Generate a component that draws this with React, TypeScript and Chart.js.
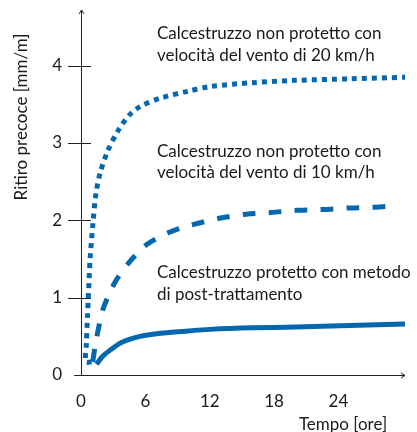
import { useEffect, useRef } from "react";
import { Chart, registerables } from "chart.js";

Chart.register(...registerables);

// ---- data ----
const xTicks = [0, 6, 12, 18, 24];
const yTicks = [0, 1, 2, 3, 4];
const xAxisTitle = "Tempo [ore]";
const yAxisTitle = "Ritiro precoce [mm/m]";

// [ore, mm/m]
const wind20 = [
  [1.0, 0.17], [0.45, 0.17], [0.5, 0.4], [0.6, 0.75], [0.68, 1.0], [0.85, 1.5],
  [1.12, 1.97], [1.4, 2.35], [1.8, 2.62], [2.5, 2.9], [3.5, 3.17], [4.5, 3.36],
  [5.5, 3.47], [7.4, 3.58], [10, 3.67], [12, 3.73], [16, 3.78], [20, 3.81],
  [25, 3.83], [30.2, 3.85],
];
const wind10 = [
  [1.1, 0.17], [1.3, 0.36], [1.7, 0.65], [2.1, 0.87], [3.17, 1.2], [4.57, 1.47],
  [6.16, 1.69], [8.3, 1.85], [10.6, 1.95], [13, 2.03], [15.4, 2.08], [17.7, 2.1],
  [20.1, 2.13], [22.5, 2.14], [25, 2.16], [27.4, 2.17], [29.4, 2.19],
];
const protectedCure = [
  [1.45, 0.14], [2.0, 0.24], [2.7, 0.32], [3.5, 0.4], [4.3, 0.45], [5.5, 0.5],
  [7.4, 0.54], [10, 0.57], [12, 0.59], [16, 0.61], [20, 0.62], [25, 0.64], [30.2, 0.66],
];

const annotationTexts = [
  ["Calcestruzzo non protetto con", "velocità del vento di 20 km/h"],
  ["Calcestruzzo non protetto con", "velocità del vento di 10 km/h"],
  ["Calcestruzzo protetto con metodo", "di post-trattamento"],
];
// anchor of each annotation in data units [ore, mm/m of first line centre]
const annotationAnchors = [
  [7.08, 4.41],
  [7.08, 2.89],
  [7.08, 1.32],
];

const BLUE = "#0567ae";
const INK = "#1a1a1a";
const FONT = "Lato";
const FS = 17;

const toXY = (arr: number[][]) => arr.map(([x, y]) => ({ x, y }));

export default function App() {
  const ref = useRef<HTMLCanvasElement | null>(null);

  useEffect(() => {
    if (!ref.current) return;

    const decor = {
      id: "decor",
      afterDraw(chart: any) {
        const ctx = chart.ctx;
        const xs = chart.scales.x;
        const ys = chart.scales.y;
        const x0 = xs.getPixelForValue(0);
        const y0 = ys.getPixelForValue(0);
        const xEnd = xs.right;
        const yTop = ys.top;
        ctx.save();
        ctx.strokeStyle = "#222";
        ctx.lineWidth = 1;
        // axes
        ctx.beginPath();
        ctx.moveTo(x0 - 7, y0 + 0.5);
        ctx.lineTo(xEnd, y0 + 0.5);
        ctx.moveTo(x0 + 0.5, y0);
        ctx.lineTo(x0 + 0.5, yTop);
        ctx.stroke();
        // arrows
        ctx.beginPath();
        ctx.moveTo(xEnd - 4, y0 + 0.5 - 2.5);
        ctx.lineTo(xEnd, y0 + 0.5);
        ctx.lineTo(xEnd - 4, y0 + 0.5 + 2.5);
        ctx.moveTo(x0 + 0.5 - 2.5, yTop + 4);
        ctx.lineTo(x0 + 0.5, yTop);
        ctx.lineTo(x0 + 0.5 + 2.5, yTop + 4);
        ctx.stroke();
        // y tick marks crossing the axis
        ctx.beginPath();
        yTicks.forEach((v) => {
          if (v === 0) return;
          const py = Math.round(ys.getPixelForValue(v)) + 0.5;
          ctx.moveTo(x0 - 13, py);
          ctx.lineTo(x0 + 10, py);
        });
        ctx.stroke();

        ctx.fillStyle = INK;
        ctx.font = `${FS}px ${FONT}`;
        // x title
        ctx.textAlign = "center";
        ctx.textBaseline = "middle";
        ctx.fillText(xAxisTitle, 343, 425);
        // y title
        ctx.save();
        ctx.translate(22, 117);
        ctx.rotate(-Math.PI / 2);
        ctx.fillText(yAxisTitle, 0, 0);
        ctx.restore();
        // annotations
        ctx.textAlign = "left";
        annotationTexts.forEach((lines, i) => {
          const [ax, ay] = annotationAnchors[i];
          const px = xs.getPixelForValue(ax);
          const py = ys.getPixelForValue(ay);
          lines.forEach((t, j) => ctx.fillText(t, px, py + j * 21.5));
        });
        ctx.restore();
      },
    };

    const chart = new Chart(ref.current, {
      type: "line",
      data: {
        datasets: [
          {
            data: toXY(wind20),
            borderColor: BLUE,
            borderWidth: 5,
            borderDash: [5, 5],
            borderCapStyle: "butt",
            pointRadius: 0,
            tension: 0.3,
            fill: false,
          },
          {
            data: toXY(wind10),
            borderColor: BLUE,
            borderWidth: 5,
            borderDash: [13, 13],
            borderCapStyle: "butt",
            pointRadius: 0,
            tension: 0.3,
            fill: false,
          },
          {
            data: toXY(protectedCure),
            borderColor: BLUE,
            borderWidth: 5,
            borderCapStyle: "butt",
            pointRadius: 0,
            tension: 0.3,
            fill: false,
          },
        ],
      },
      options: {
        animation: false,
        responsive: false,
        events: [],
        layout: { padding: { top: 10, right: 12, left: 0, bottom: 0 } },
        plugins: { legend: { display: false }, tooltip: { enabled: false } },
        scales: {
          x: {
            type: "linear",
            min: 0,
            max: 30.2,
            grid: { display: false, drawTicks: false, tickLength: 0 },
            border: { display: false },
            afterBuildTicks: (s: any) => {
              s.ticks = xTicks.map((value) => ({ value }));
            },
            afterFit: (s: any) => {
              s.height = 57;
              s.paddingLeft = 0;
              s.paddingRight = 0;
              s.paddingTop = 0;
              s.paddingBottom = 0;
            },
            ticks: {
              padding: 16,
              color: INK,
              font: { family: FONT, size: FS },
              maxRotation: 0,
              autoSkip: false,
            },
          },
          y: {
            type: "linear",
            min: 0,
            max: 4.72,
            grid: { display: false, drawTicks: false, tickLength: 0 },
            border: { display: false },
            afterBuildTicks: (s: any) => {
              s.ticks = yTicks.map((value) => ({ value }));
            },
            afterFit: (s: any) => {
              s.width = 81;
              s.paddingLeft = 0;
              s.paddingRight = 0;
              s.paddingTop = 0;
              s.paddingBottom = 0;
            },
            ticks: {
              padding: 19,
              color: INK,
              font: { family: FONT, size: FS },
            },
          },
        },
      },
      plugins: [decor],
    } as any);

    return () => chart.destroy();
  }, []);

  return (
    <div style={{ position: "absolute", left: 0, top: 0, width: 417, height: 432, background: "#fff" }}>
      <canvas ref={ref} width={417} height={432} />
    </div>
  );
}
